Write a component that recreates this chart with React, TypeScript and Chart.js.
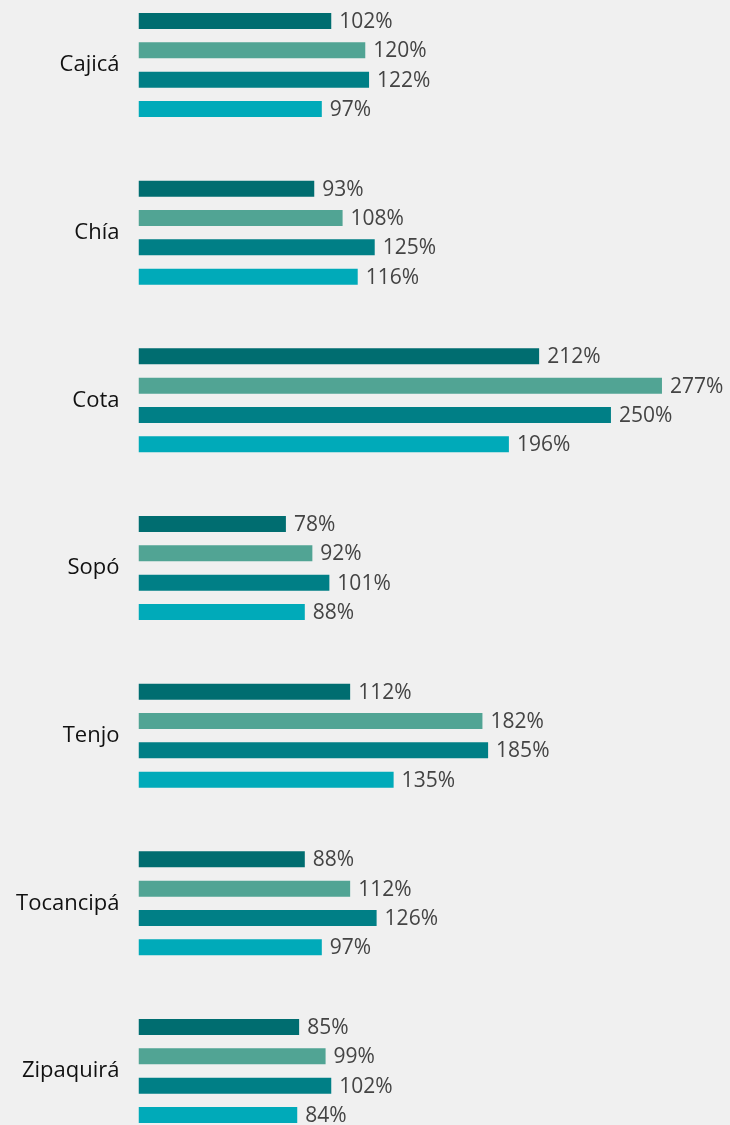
import React, { useEffect, useRef } from "react";
import { Chart, registerables } from "chart.js";

Chart.register(...registerables);

const categories = ["Cajicá", "Chía", "Cota", "Sopó", "Tenjo", "Tocancipá", "Zipaquirá"];
const serie1 = [102, 93, 212, 78, 112, 88, 85];
const serie2 = [120, 108, 277, 92, 182, 112, 99];
const serie3 = [122, 125, 250, 101, 185, 126, 102];
const serie4 = [97, 116, 196, 88, 135, 97, 84];
const seriesNames = ["Serie 1", "Serie 2", "Serie 3", "Serie 4"];
const colors = ["#006d70", "#51a494", "#007f86", "#00aab9"];

const labelPlugin = {
  id: "valueLabels",
  afterDatasetsDraw(chart: any) {
    const ctx = chart.ctx;
    ctx.save();
    ctx.font = "21px 'Open Sans', sans-serif";
    ctx.fillStyle = "#444444";
    ctx.textAlign = "left";
    ctx.textBaseline = "middle";
    chart.data.datasets.forEach((ds: any, i: number) => {
      const meta = chart.getDatasetMeta(i);
      meta.data.forEach((bar: any, j: number) => {
        ctx.fillText(ds.data[j] + "%", bar.x + 8, bar.y + 1);
      });
    });
    ctx.restore();
  },
};

export default function App() {
  const ref = useRef<HTMLCanvasElement>(null);
  useEffect(() => {
    document.body.style.margin = "0";
    document.body.style.background = "#f0f0f0";
    const all = [serie1, serie2, serie3, serie4];
    const chart = new Chart(ref.current!, {
      type: "bar",
      data: {
        labels: categories,
        datasets: all.map((d, i) => ({
          label: seriesNames[i],
          data: d,
          backgroundColor: colors[i],
          categoryPercentage: 0.7,
          barPercentage: 0.5455,
        })),
      },
      options: {
        indexAxis: "y",
        responsive: false,
        animation: false,
        layout: { padding: 0 },
        plugins: { legend: { display: false }, tooltip: { enabled: false } },
        scales: {
          x: { display: false, min: 0, max: 313 },
          y: {
            grid: { display: false, drawTicks: false },
            border: { display: false },
            ticks: {
              color: "#111111",
              font: { family: "'Open Sans', sans-serif", size: 22 },
              padding: 19,
            },
            afterFit(scale: any) {
              scale.width = 138.5;
            },
          },
        },
      },
      plugins: [labelPlugin],
    });
    return () => chart.destroy();
  }, []);
  return (
    <div style={{ position: "relative", width: 730, height: 1125, overflow: "hidden", background: "#f0f0f0" }}>
      <canvas ref={ref} width={730} height={1238} style={{ position: "absolute", left: 0, top: -51 }} />
    </div>
  );
}
